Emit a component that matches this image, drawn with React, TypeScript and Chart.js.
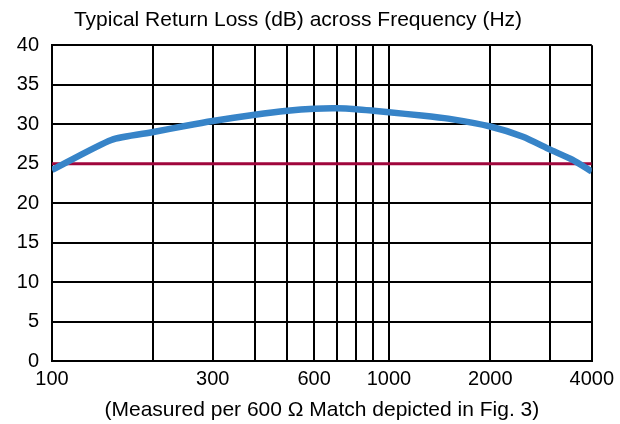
import React, { useEffect, useRef } from "react";
import { Chart, registerables } from "chart.js";

Chart.register(...registerables);

const frequencies = [100, 150, 200, 250, 300, 400, 500, 600, 700, 800, 900, 1000, 1250, 1500, 2000, 2500, 3000, 3500, 4000];
const returnLoss = [24.2, 28.0, 29.0, 29.8, 30.4, 31.2, 31.7, 31.95, 32.0, 31.9, 31.7, 31.5, 31.1, 30.7, 29.7, 28.4, 26.8, 25.5, 24.0];
const limitFrequencies = [100, 4000];
const limitValues = [25, 25];
const gridFrequencies = [100, 200, 300, 400, 500, 600, 700, 800, 900, 1000, 2000, 3000, 4000];
const labeledFrequencies = [100, 300, 600, 1000, 2000, 4000];
const titleText = "Typical Return Loss (dB) across Frequency (Hz)";
const subtitleText = "(Measured per 600 \u03A9 Match depicted in Fig. 3)";

export default function App() {
  const ref = useRef<HTMLCanvasElement | null>(null);

  useEffect(() => {
    document.body.style.margin = "0";
    const canvas = ref.current;
    if (!canvas) return;
    Chart.defaults.font.family = "'Liberation Sans', Arial, sans-serif";
    Chart.defaults.color = "#000";

    const chart = new Chart(canvas, {
      type: "line",
      data: {
        datasets: [
          {
            label: "Return Loss",
            data: frequencies.map((f, i) => ({ x: f, y: returnLoss[i] })),
            borderColor: "#3784c8",
            borderWidth: 6.5,
            pointRadius: 0,
            tension: 0.2,
            borderCapStyle: "butt",
            fill: false,
          },
          {
            label: "Limit",
            data: limitFrequencies.map((f, i) => ({ x: f, y: limitValues[i] })),
            borderColor: "#a0063c",
            borderWidth: 3,
            pointRadius: 0,
            tension: 0,
            fill: false,
          },
        ],
      },
      options: {
        animation: false,
        responsive: false,
        maintainAspectRatio: false,
        layout: { padding: { left: 0, right: 24, top: 0, bottom: 0 } },
        plugins: {
          legend: { display: false },
          tooltip: { enabled: false },
          title: {
            display: true,
            text: titleText,
            color: "#000",
            font: { size: 21, weight: "normal" },
            padding: { top: 8, bottom: 12 },
          },
        },
        scales: {
          x: {
            type: "logarithmic",
            min: 100,
            max: 4000,
            afterBuildTicks: (scale: any) => {
              scale.ticks = gridFrequencies.map((v) => ({ value: v }));
            },
            afterFit: (scale: any) => {
              scale.height = 63;
            },
            ticks: {
              autoSkip: false,
              maxRotation: 0,
              minRotation: 0,
              padding: 6,
              color: "#000",
              font: { size: 20 },
              callback: (value: any) =>
                labeledFrequencies.includes(Number(value)) ? String(value) : "",
            },
            grid: { color: "#000", lineWidth: 2, drawTicks: false },
            border: { color: "#000", width: 2 },
            title: {
              display: true,
              text: subtitleText,
              color: "#000",
              font: { size: 21 },
              padding: { top: 0, bottom: 1.5 },
            },
          },
          y: {
            type: "linear",
            min: 0,
            max: 40,
            afterFit: (scale: any) => {
              scale.width = 52;
            },
            ticks: {
              stepSize: 5,
              padding: 13,
              color: "#000",
              font: { size: 20 },
            },
            grid: { color: "#000", lineWidth: 2, drawTicks: false },
            border: { color: "#000", width: 2 },
          },
        },
      },
    });
    return () => chart.destroy();
  }, []);

  return (
    <div style={{ position: "fixed", left: 0, top: 0, width: 620, height: 424, background: "#fff" }}>
      <canvas ref={ref} width={620} height={424} style={{ display: "block", width: 620, height: 424 }} />
    </div>
  );
}
